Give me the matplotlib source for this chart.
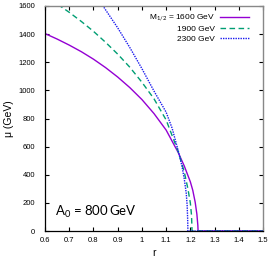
import matplotlib
matplotlib.use("Agg")
import matplotlib.pyplot as plt

plt.rcParams['font.family'] = ['Liberation Sans', 'DejaVu Sans']
plt.rcParams['mathtext.fontset'] = 'custom'
plt.rcParams['mathtext.rm'] = 'Lato'
plt.rcParams['mathtext.it'] = 'Lato:italic'

# Data
r_1600 = [0.6, 0.65, 0.7, 0.75, 0.8, 0.85, 0.9, 0.95, 1.0, 1.05, 1.1, 1.15, 1.175, 1.2, 1.21, 1.22, 1.227, 1.231, 1.232, 1.5]
mu_1600 = [1404, 1365, 1322, 1275, 1222, 1162, 1095, 1020, 935, 835, 718, 558, 462, 350, 290, 205, 120, 40, 0, 0]

r_1900 = [0.6, 0.65, 0.7, 0.75, 0.8, 0.85, 0.9, 0.95, 1.0, 1.05, 1.1, 1.15, 1.175, 1.19, 1.2, 1.205, 1.207, 1.5]
mu_1900 = [1680, 1615, 1555, 1490, 1420, 1342, 1258, 1165, 1058, 940, 790, 565, 420, 300, 200, 110, 0, 0]

r_2300 = [0.8, 0.837, 0.85, 0.9, 0.95, 1.0, 1.05, 1.1, 1.125, 1.15, 1.165, 1.175, 1.183, 1.187, 1.189, 1.19, 1.5]
mu_2300 = [1700, 1607, 1573, 1445, 1305, 1155, 995, 845, 730, 570, 465, 370, 270, 180, 80, 0, 0]

labels = ["M$_{1/2}$ = 1600 GeV", "1900 GeV", "2300 GeV"]
xticks = [0.6, 0.7, 0.8, 0.9, 1.0, 1.1, 1.2, 1.3, 1.4, 1.5]
xticklabels = ["0.6", "0.7", "0.8", "0.9", "1", "1.1", "1.2", "1.3", "1.4", "1.5"]
yticks = [0, 200, 400, 600, 800, 1000, 1200, 1400, 1600]

fig = plt.figure(figsize=(2.72, 2.64), dpi=100)
ax = fig.add_axes([45/272, 33/264, 218/272, 225/264])

ax.plot(r_1600, mu_1600, color='#9400d3', lw=1.0, ls='-', label=labels[0])
ax.plot(r_1900, mu_1900, color='#009e73', lw=1.0, ls=(0, (4, 2.5)), label=labels[1])
ax.plot(r_2300, mu_2300, color='#1a1aee', lw=1.0, ls=(0, (1, 0.8)), label=labels[2])

ax.set_xlim(0.6, 1.5)
ax.set_ylim(0, 1600)
ax.set_xticks(xticks)
ax.set_xticklabels(xticklabels)
ax.set_yticks(yticks)
ax.tick_params(direction='in', length=3, width=0.8, labelsize=5.5, top=True, right=True)
ax.tick_params(axis='y', pad=7)
ax.tick_params(axis='x', pad=4)
for s in ['left', 'bottom']:
    ax.spines[s].set_color('black')
    ax.spines[s].set_linewidth(0.9)
for s in ['top', 'right']:
    ax.spines[s].set_color('#888888')
    ax.spines[s].set_linewidth(1.0)

ax.set_xlabel('r', fontsize=7.5, labelpad=3)
ax.set_ylabel('μ (GeV)', fontsize=7.5, labelpad=3)

leg = ax.legend(loc='upper right', markerfirst=False, frameon=False, fontsize=6,
                handlelength=3.4, labelspacing=0.2, handletextpad=0.7,
                borderaxespad=0.0, bbox_to_anchor=(0.95, 0.985))

ax.text(0.045, 0.069, 'A$_0$ = 800$\\,$GeV', transform=ax.transAxes, fontsize=9.5,
        family=['Lato', 'DejaVu Sans'], ha='left', va='baseline')

fig.savefig('out.png', dpi=100)
